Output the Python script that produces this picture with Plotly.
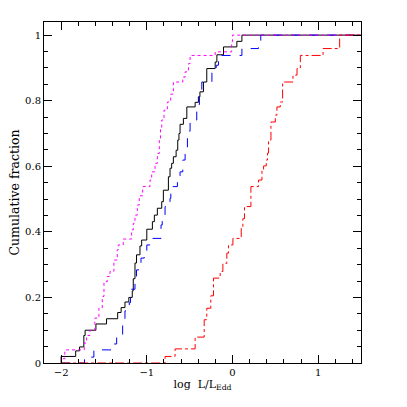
import plotly.graph_objects as go

# Step vertices (x where the step occurs, cumulative fraction after the step)
black_x = [-2.0, -1.83, -1.785, -1.735, -1.72, -1.594, -1.47, -1.34, -1.30, -1.255, -1.21, -1.17,
           -1.158, -1.138, -1.12, -1.08, -1.06, -1.0, -0.935, -0.912, -0.877, -0.826, -0.807,
           -0.748, -0.729, -0.71, -0.69, -0.658, -0.639, -0.625, -0.612, -0.573, -0.533, -0.436,
           -0.398, -0.38, -0.339, -0.30, -0.202, -0.182, -0.105, 0.051, 0.11]
black_y = [0.02, 0.037, 0.049, 0.084, 0.10, 0.119, 0.135, 0.154, 0.169, 0.186, 0.20, 0.22,
           0.257, 0.305, 0.33, 0.357, 0.375, 0.408, 0.431, 0.451, 0.472, 0.492, 0.527,
           0.568, 0.594, 0.609, 0.629, 0.649, 0.68, 0.70, 0.728, 0.746, 0.781, 0.795,
           0.812, 0.827, 0.857, 0.898, 0.918, 0.94, 0.964, 0.981, 1.0]

blue_x = [-1.727, -1.618, -1.384, -1.352, -1.282, -1.255, -1.205, -1.19, -1.138, -1.12, -1.068,
          -1.03, -1.0, -0.943, -0.834, -0.82, -0.787, -0.729, -0.72, -0.643, -0.612, -0.58,
          -0.553, -0.526, -0.495, -0.417, -0.386, -0.358, -0.24, -0.19, -0.164, 0.11, 0.304, 0.33]
blue_y = [0.018, 0.04, 0.058, 0.079, 0.132, 0.159, 0.184, 0.225, 0.256, 0.284, 0.32,
          0.34, 0.36, 0.38, 0.421, 0.441, 0.477, 0.502, 0.538, 0.56, 0.583, 0.619,
          0.651, 0.707, 0.741, 0.788, 0.812, 0.857, 0.893, 0.908, 0.938, 0.959, 0.979, 1.0]

magenta_x = [-1.996, -1.957, -1.73, -1.703, -1.664, -1.606, -1.559, -1.52, -1.5, -1.462, -1.43,
             -1.384, -1.345, -1.333, -1.275, -1.177, -1.158, -1.138, -1.111, -1.088, -1.048,
             -0.963, -0.943, -0.904, -0.877, -0.854, -0.84, -0.826, -0.799, -0.76, -0.721,
             -0.69, -0.58, -0.553, -0.514, -0.495, -0.202, -0.01, 0.0]
magenta_y = [0.013, 0.04, 0.061, 0.084, 0.10, 0.137, 0.167, 0.203, 0.248, 0.264, 0.279,
             0.314, 0.345, 0.36, 0.378, 0.406, 0.426, 0.451, 0.482, 0.51, 0.538,
             0.558, 0.583, 0.609, 0.639, 0.68, 0.715, 0.741, 0.771, 0.796, 0.82,
             0.857, 0.872, 0.888, 0.913, 0.938, 0.949, 0.98, 1.0]

red_x = [-0.787, -0.67, -0.436, -0.33, -0.30, -0.253, -0.222, -0.144, -0.112, -0.066, -0.047,
         0.005, 0.102, 0.121, 0.14, 0.215, 0.304, 0.344, 0.363, 0.394, 0.409, 0.421, 0.449,
         0.50, 0.519, 0.558, 0.585, 0.706, 0.753, 0.792, 1.057, 1.251]
red_y = [0.02, 0.043, 0.079, 0.132, 0.167, 0.205, 0.259, 0.279, 0.304, 0.335, 0.36,
         0.38, 0.411, 0.44, 0.477, 0.538, 0.558, 0.588, 0.601, 0.619, 0.64, 0.68, 0.735,
         0.756, 0.781, 0.796, 0.857, 0.878, 0.898, 0.938, 0.959, 1.0]

x_range = [-2.2, 1.5]
y_range = [0, 1.04]
x_start = -2.0

series = [
    (black_x, black_y, "black", "solid"),
    (blue_x, blue_y, "#0000ff", "dash"),
    (magenta_x, magenta_y, "#ff00ff", "dot"),
    (red_x, red_y, "#ff0000", "dashdot"),
]

fig = go.Figure()
for xs, ys, col, dash in series:
    fig.add_trace(go.Scatter(
        x=[x_start] + xs + [x_range[1]],
        y=[0] + ys + [ys[-1]],
        mode="lines", line=dict(color=col, width=1, dash=dash, shape="hv"),
        showlegend=False, hoverinfo="skip"))

tick_font = dict(family="DejaVu Serif", size=10, color="black")
axis_common = dict(showgrid=False, zeroline=False, showline=True, linecolor="black",
                   linewidth=1, mirror="allticks", ticks="inside", ticklen=8,
                   tickcolor="black", tickfont=tick_font)
fig.update_xaxes(range=x_range, dtick=1, tick0=0,
                 minor=dict(dtick=0.2, tick0=0, ticks="inside", ticklen=4, tickcolor="black"),
                 title=dict(text="log  L/L<sub>Edd</sub>",
                            font=dict(family="DejaVu Serif", size=11, color="black"),
                            standoff=2),
                 **axis_common)
fig.update_yaxes(range=y_range, dtick=0.2, tick0=0,
                 minor=dict(dtick=0.05, tick0=0, ticks="inside", ticklen=4, tickcolor="black"),
                 **axis_common)
fig.add_annotation(text="Cumulative fraction", xref="paper", yref="paper",
                   x=0, y=0.5, xanchor="center", yanchor="middle", xshift=-30,
                   textangle=-90, showarrow=False,
                   font=dict(family="DejaVu Serif", size=12.5, color="black"))
fig.update_layout(width=399, height=399, margin=dict(l=36, r=46, t=14, b=44),
                  plot_bgcolor="white", paper_bgcolor="white",
                  font=dict(family="DejaVu Serif", size=11, color="black"))
fig.write_html("out.html")
